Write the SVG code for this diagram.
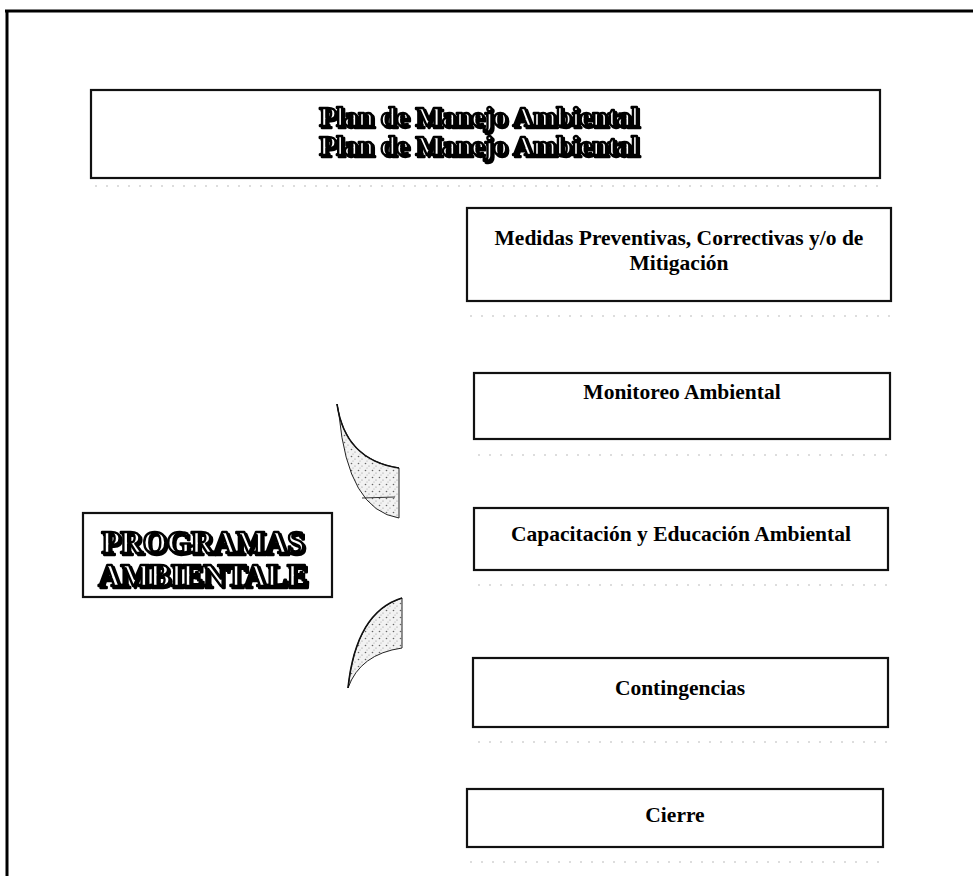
<svg xmlns="http://www.w3.org/2000/svg" width="973" height="876" viewBox="0 0 973 876">
<style>
.box{fill:#fff;stroke:#111;stroke-width:2.2}
.lbl{font-family:"Liberation Serif","Times New Roman",serif;font-weight:bold;font-size:21.5px;fill:#000;text-anchor:middle}
.ol{font-family:"Liberation Serif","Times New Roman",serif;font-weight:bold;text-anchor:middle;fill:#fff;stroke:#000;stroke-width:2.4;stroke-linejoin:round;filter:url(#shadow)}
.noise{stroke:#bbb;stroke-width:1;stroke-dasharray:2 9;fill:none}
.cres{fill:url(#stip);stroke:#222;stroke-width:1}
</style>
<defs>
<pattern id="stip" width="7" height="7" patternUnits="userSpaceOnUse">
<rect width="7" height="7" fill="#f2f2f2"/>
<circle cx="1.5" cy="1.5" r="0.8" fill="#666"/>
<circle cx="5" cy="4" r="0.6" fill="#888"/>
<circle cx="3" cy="6" r="0.5" fill="#999"/>
</pattern>
<filter id="shadow" x="-5%" y="-20%" width="110%" height="150%">
<feOffset in="SourceAlpha" dx="2" dy="2" result="off"/>
<feMerge><feMergeNode in="off"/><feMergeNode in="SourceGraphic"/></feMerge>
</filter>
</defs>
<rect width="973" height="876" fill="#fff"/>
<g id="frame">
<line x1="5" y1="11" x2="973" y2="11" stroke="#000" stroke-width="3"/>
<line x1="7" y1="10" x2="7" y2="876" stroke="#000" stroke-width="3"/>
</g>
<g id="title">
<rect class="box" x="91" y="90" width="789" height="88" stroke-width="2.5"/>
<text class="ol" x="479" y="126" font-size="28">Plan de Manejo Ambiental</text>
<text class="ol" x="479" y="155" font-size="28">Plan de Manejo Ambiental</text>
</g>
<g id="programas">
<rect class="box" x="83" y="513" width="249" height="84" stroke-width="2.5"/>
<text class="ol" x="203" y="553" font-size="31">PROGRAMAS</text>
<text class="ol" x="203" y="586" font-size="31">AMBIENTALE</text>
</g>
<g id="medidas">
<rect class="box" x="467" y="208" width="424" height="93"/>
<text class="lbl" x="679" y="245">Medidas Preventivas, Correctivas y/o de</text>
<text class="lbl" x="679" y="270">Mitigación</text>
</g>
<g id="monitoreo">
<rect class="box" x="474" y="373" width="416" height="66"/>
<text class="lbl" x="682" y="399">Monitoreo Ambiental</text>
</g>
<g id="capacitacion">
<rect class="box" x="474" y="508" width="414" height="62"/>
<text class="lbl" x="681" y="541">Capacitación y Educación Ambiental</text>
</g>
<g id="contingencias">
<rect class="box" x="473" y="658" width="415" height="69"/>
<text class="lbl" x="680" y="695">Contingencias</text>
</g>
<g id="cierre">
<rect class="box" x="467" y="789" width="416" height="58"/>
<text class="lbl" x="675" y="822">Cierre</text>
</g>
<g id="connectors">
<path class="cres" d="M337,404 Q345,460 399,468 L399,518 Q348,510 339,415 Z"/>
<path d="M337,404 Q345,460 399,468" fill="none" stroke="#111" stroke-width="1.6"/>
<line x1="362" y1="498" x2="395" y2="497" stroke="#333" stroke-width="1"/>
<path class="cres" d="M402,598 Q356,612 348,688 Q360,654 402,648 Z"/>
<path d="M402,598 Q356,612 348,688" fill="none" stroke="#111" stroke-width="1.6"/>
</g>
<g id="noise">
<line class="noise" x1="95" y1="186" x2="880" y2="186"/>
<line class="noise" x1="470" y1="316" x2="890" y2="316"/>
<line class="noise" x1="478" y1="455" x2="890" y2="455"/>
<line class="noise" x1="478" y1="585" x2="890" y2="585"/>
<line class="noise" x1="478" y1="742" x2="890" y2="742"/>
<line class="noise" x1="470" y1="862" x2="880" y2="862"/>
</g>
</svg>
